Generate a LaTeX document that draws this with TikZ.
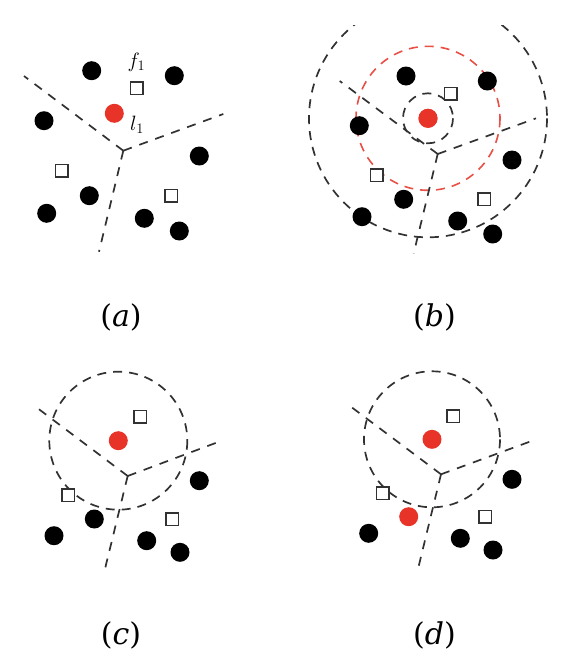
\documentclass[tikz,border=0pt]{standalone}
\usepackage{fontspec}
\newfontfamily\capfont{DejaVu Serif}
\usetikzlibrary{calc}
\definecolor{dotred}{RGB}{232,52,40}
\definecolor{ringred}{RGB}{232,80,70}
\definecolor{linegray}{RGB}{50,50,50}
\tikzset{
  bdot/.style={circle,fill=black,inner sep=0pt,minimum size=19pt},
  rdot/.style={circle,fill=dotred,inner sep=0pt,minimum size=19pt},
  sq/.style={rectangle,draw=linegray,line width=1.5pt,fill=white,inner sep=0pt,minimum size=12.5pt},
  vline/.style={draw=linegray,line width=1.7pt,dash pattern=on 9pt off 8pt},
  ring/.style={draw=linegray,line width=1.7pt,dash pattern=on 9pt off 7pt},
  redring/.style={draw=ringred,line width=1.6pt,dash pattern=on 9pt off 7pt},
  captext/.style={font=\capfont\fontsize{30}{32}\selectfont,inner sep=0pt},
  lab/.style={font=\fontsize{20}{22}\selectfont,inner sep=0pt}
}
\begin{document}
\begin{tikzpicture}[x=1pt,y=-1pt]
\useasboundingbox (0,0) rectangle (564,672);
% ---------------- panel (a)
\coordinate (ja) at (123.3,150.7);
\coordinate (ea1) at (24,76);
\coordinate (ea2) at (223.3,114);
\coordinate (ea3) at (99,251.7);
\draw[vline] (ja) -- (ea1);
\draw[vline] (ja) -- (ea2);
\draw[vline] (ja) -- (ea3);
\node[bdot] (a1) at (91.7,70.7) {};
\node[bdot] (a2) at (174.3,75.7) {};
\node[bdot] (a3) at (44,120.7) {};
\node[bdot] (a4) at (199.3,156) {};
\node[bdot] (a5) at (89.3,195.7) {};
\node[bdot] (a6) at (46.7,213.3) {};
\node[bdot] (a7) at (144.3,218.3) {};
\node[bdot] (a8) at (179.3,231) {};
\node[rdot] (ar) at (114.3,113.3) {};
\node[sq] (as1) at (136.7,88.3) {};
\node[sq] (as2) at (61.7,170.7) {};
\node[sq] (as3) at (171,195.7) {};
\node[lab] (f1) at (136.5,62) {$f_1$};
\node[lab] (l1) at (137,124.5) {$l_1$};
\node[captext] (capa) at (121,317) {(\textit{a})};
% ---------------- panel (b)
\coordinate (jb) at (437.7,154);
\coordinate (eb1) at (339.7,81);
\coordinate (eb2) at (536,118.3);
\coordinate (eb3) at (413.7,253.3);
\node[rdot] (br) at (428,118.3) {};
\draw[ring] (br.center) circle[radius=25];
\draw[redring] (br.center) circle[radius=72];
\begin{scope}
  \clip (0,25) rectangle (564,672);
  \draw[ring] (br.center) circle[radius=119];
\end{scope}
\draw[vline] (jb) -- (eb1);
\draw[vline] (jb) -- (eb2);
\draw[vline] (jb) -- (eb3);
\node[bdot] (b1) at (406,76) {};
\node[bdot] (b2) at (487.3,81) {};
\node[bdot] (b3) at (359.3,125.7) {};
\node[bdot] (b4) at (512,160) {};
\node[bdot] (b5) at (403.7,199.3) {};
\node[bdot] (b6) at (362,216.7) {};
\node[bdot] (b7) at (457.7,221) {};
\node[bdot] (b8) at (492.7,234) {};
\node[rdot] at (br.center) {};
\node[sq] (bs1) at (450.7,93.7) {};
\node[sq] (bs2) at (376.7,175) {};
\node[sq] (bs3) at (484,199.3) {};
\node[captext] (capb) at (434.5,317) {(\textit{b})};
% ---------------- panel (c)
\coordinate (jc) at (127.7,476);
\coordinate (ec1) at (33.3,405);
\coordinate (ec2) at (221.7,440.7);
\coordinate (ec3) at (104.3,571.7);
\node[rdot] (cr) at (118.3,440.7) {};
\draw[ring] (cr.center) circle[radius=69];
\draw[vline] (jc) -- (ec1);
\draw[vline] (jc) -- (ec2);
\draw[vline] (jc) -- (ec3);
\node[bdot] (c1) at (199.3,480.7) {};
\node[bdot] (c2) at (94.3,519) {};
\node[bdot] (c3) at (54,535.7) {};
\node[bdot] (c4) at (146.7,540.7) {};
\node[bdot] (c5) at (180,552.3) {};
\node[sq] (cs1) at (140,416.7) {};
\node[sq] (cs2) at (68.3,495) {};
\node[sq] (cs3) at (172.3,519) {};
\node[captext] (capc) at (121,635) {(\textit{c})};
% ---------------- panel (d)
\coordinate (jd) at (441,474.3);
\coordinate (ed1) at (347.7,404.3);
\coordinate (ed2) at (534.3,440);
\coordinate (ed3) at (418,569);
\node[rdot] (dr) at (432,439.3) {};
\draw[ring] (dr.center) circle[radius=68];
\draw[vline] (jd) -- (ed1);
\draw[vline] (jd) -- (ed2);
\draw[vline] (jd) -- (ed3);
\node[bdot] (d1) at (512,479.3) {};
\node[bdot] (d2) at (368.7,533.3) {};
\node[bdot] (d3) at (460.3,538.3) {};
\node[bdot] (d4) at (493,550) {};
\node[rdot] (dr2) at (408.7,516.7) {};
\node[sq] (ds1) at (453.3,416) {};
\node[sq] (ds2) at (382.7,493.3) {};
\node[sq] (ds3) at (485.3,516.7) {};
\node[captext] (capd) at (434.5,635) {(\textit{d})};
\end{tikzpicture}
\end{document}
